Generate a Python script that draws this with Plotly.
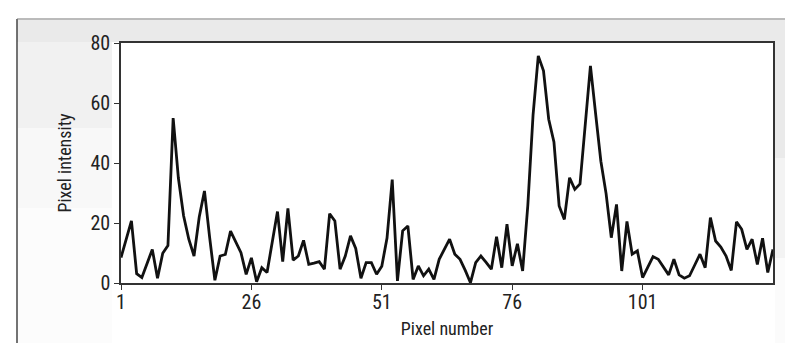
import plotly.graph_objects as go

pixel_number = list(range(1, 127))
pixel_intensity = [
    8.5, 14.6, 20.7, 3.1, 1.8, 6.5, 11.2, 1.6, 9.9, 12.5,
    55, 35, 22.4, 14.6, 9, 22, 30.7, 15.1, 0.9, 9,
    9.5, 17.3, 13.4, 10.1, 2.9, 8.4, 0.4, 5.1, 3.5, 13.5,
    23.8, 7.1, 24.9, 7.6, 9, 14.2, 6.2, 6.6, 7.1, 4.6,
    23.1, 20.7, 4.6, 9, 15.7, 11.5, 1.6, 6.8, 6.8, 2.9,
    5.6, 15, 34.5, 0.7, 17.4, 19, 1.2, 5.7, 2.4, 4.6,
    1.2, 7.9, 11.2, 14.6, 9.6, 7.9, 4.2, 0.1, 6.8, 9,
    6.9, 4.6, 15.4, 5.1, 19.6, 5.7, 13.1, 4, 26, 56,
    75.7, 70.7, 54.6, 47, 25.7, 21.2, 35.1, 31.2, 33, 53,
    72.4, 56.3, 40.6, 29.8, 15.1, 26.2, 4, 20.5, 9.6, 10.7,
    1.8, 5.3, 8.8, 7.9, 5.3, 2.7, 7.9, 2.7, 1.6, 2.4,
    6, 9.6, 5.1, 21.8, 14, 12, 9, 4.2, 20.4, 17.9,
    11.2, 14.6, 6.2, 14.9, 3.5, 11.2,
]
x_ticks = [1, 26, 51, 76, 101]
y_ticks = [0, 20, 40, 60, 80]

FONT = "Liberation Sans Narrow, Arial Narrow, Roboto Condensed, Roboto, sans-serif"

fig = go.Figure()
fig.add_trace(go.Scatter(
    x=pixel_number, y=pixel_intensity, mode="lines",
    line=dict(color="#111111", width=2.8), hoverinfo="skip", showlegend=False,
))

# plot area in pixels: left 113, right 765, top 35, bottom 275
L, R, T, B = 113, 765, 35, 275
W, H = 793, 343


def px(x):
    return (x - L) / (R - L)


def py(y):
    return (B - y) / (B - T)


shapes = []
# scanned speckle bands (light approximation)
shapes.append(dict(type="rect", xref="paper", yref="paper", layer="below",
                   x0=px(9), x1=px(793), y0=py(34), y1=py(12),
                   fillcolor="rgba(150,150,150,0.2)", line=dict(width=0)))
for y0, y1, a in [(34, 120, 0.13), (120, 200, 0.07), (200, 343, 0.03)]:
    shapes.append(dict(type="rect", xref="paper", yref="paper", layer="below",
                       x0=px(10), x1=px(104), y0=py(y1), y1=py(y0),
                       fillcolor=f"rgba(150,150,150,{a})", line=dict(width=0)))
for y0, y1, a in [(34, 150, 0.2), (150, 250, 0.11), (250, 343, 0.04)]:
    shapes.append(dict(type="rect", xref="paper", yref="paper", layer="below",
                       x0=px(767), x1=px(793), y0=py(y1), y1=py(y0),
                       fillcolor=f"rgba(150,150,150,{a})", line=dict(width=0)))
# outer frame lines
shapes.append(dict(type="line", xref="paper", yref="paper",
                   x0=px(9), x1=px(9), y0=py(343), y1=py(11),
                   line=dict(color="#444", width=1.5)))
shapes.append(dict(type="line", xref="paper", yref="paper",
                   x0=px(9), x1=px(793), y0=py(11), y1=py(11),
                   line=dict(color="#777", width=1)))

fig.update_layout(
    width=W, height=H,
    margin=dict(l=L, r=W - R, t=T, b=H - B, pad=0),
    paper_bgcolor="white", plot_bgcolor="white",
    font=dict(family=FONT, color="#222222", size=18),
    shapes=shapes,
    xaxis=dict(
        range=[1, 126], tickmode="array", tickvals=x_ticks,
        ticktext=[str(v) for v in x_ticks],
        showgrid=False, zeroline=False, showline=True, mirror=True,
        linecolor="#333333", linewidth=1.5,
        ticks="outside", ticklen=5, tickcolor="#333333", tickwidth=1,
        ticklabelstandoff=-5,
        tickfont=dict(size=20, family=FONT),
        title=dict(text="Pixel number", font=dict(size=18, family=FONT), standoff=10),
    ),
    yaxis=dict(
        range=[0, 80], tickmode="array", tickvals=y_ticks,
        showgrid=False, zeroline=False, showline=True, mirror=True,
        linecolor="#333333", linewidth=1.5,
        ticks="outside", ticklen=5, tickcolor="#333333", tickwidth=1,
        tickfont=dict(size=20, family=FONT),
        title=dict(text="Pixel intensity", font=dict(size=18, family=FONT), standoff=14),
    ),
)

fig.write_html("out.html")
